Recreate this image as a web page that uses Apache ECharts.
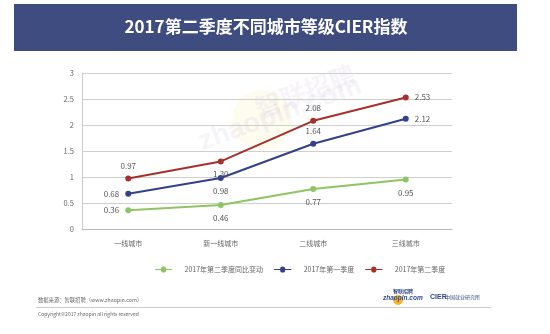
<!DOCTYPE html>
<html><head><meta charset="utf-8">
<script src="https://cdn.jsdelivr.net/npm/echarts@6/dist/echarts.min.js"></script>
<style>html,body{margin:0;padding:0;background:#fff}#c{width:550px;height:334px}</style>
</head><body><div id="c"></div>
<script>
var categories = ['一线城市', '新一线城市', '二线城市', '三线城市'];
var seriesNames = ['2017年第二季度同比变动', '2017年第一季度', '2017年第二季度'];
var yoyChange = [0.36, 0.46, 0.77, 0.95];
var q1 = [0.68, 0.98, 1.64, 2.12];
var q2 = [0.97, 1.30, 2.08, 2.53];
var yTicks = [0, 0.5, 1, 1.5, 2, 2.5, 3];

var colors = ['#8dc563', '#33408a', '#a5302c'];
var labelPos = [
  ['left', 'bottom', 'bottom', 'bottom'],
  ['left', 'bottom', 'top', 'right'],
  ['top', 'bottom', 'top', 'right']
];
var allData = [yoyChange, q1, q2];
var font = '"Noto Sans CJK SC", "Noto Sans", sans-serif';

var chart = echarts.init(document.getElementById('c'));
chart.setOption({
  animation: false,
  backgroundColor: '#fff',
  textStyle: {fontFamily: font},
  grid: {left: 82, right: 98, top: 73, bottom: 105},
  legend: {
    data: seriesNames,
    top: 261, left: 150,
    itemWidth: 20, itemHeight: 6, itemGap: 11,
    textStyle: {fontSize: 7, color: '#666', fontFamily: font, padding: [0, 0, 0, 6]},
    icon: 'path://M0,2.5 L7,2.5 A3,3 0 1,1 13,2.5 L20,2.5 L20,3.5 L13,3.5 A3,3 0 1,1 7,3.5 L0,3.5 Z'
  },
  xAxis: [{
    type: 'category', data: categories, boundaryGap: true,
    axisLine: {lineStyle: {color: '#bbb', width: 1}},
    axisTick: {alignWithLabel: true, length: 4, lineStyle: {color: '#bbb'}},
    axisLabel: {color: '#666', fontSize: 7, margin: 11}
  }, {
    type: 'category', data: categories, boundaryGap: true, position: 'bottom',
    axisLine: {show: false},
    axisTick: {length: 18, lineStyle: {color: '#ccc'}},
    axisLabel: {show: false}
  }],
  yAxis: {
    type: 'value', min: 0, max: 3, interval: 0.5,
    axisLine: {show: true, lineStyle: {color: '#ccc'}},
    axisTick: {show: false},
    axisLabel: {color: '#666', fontSize: 7.5, margin: 8,
      formatter: function (v) { return yTicks.indexOf(v) >= 0 ? String(v) : ''; }},
    splitLine: {lineStyle: {color: '#cfcfcf', width: 1}}
  },
  graphic: [
    {type: 'rect', x: 14, y: 4, shape: {width: 503, height: 47}, style: {fill: '#3f4c7f'}, z: 1},
    {type: 'text', x: 266, y: 27, style: {text: '2017第二季度不同城市等级CIER指数', fill: '#fff', font: 'bold 17px ' + font, textAlign: 'center', textVerticalAlign: 'middle'}, z: 2},
    {type: 'circle', shape: {cx: 262, cy: 120, r: 30}, style: {fill: 'rgba(250,225,140,0.14)'}, z: -1},
    {type: 'text', x: 252, y: 97, rotation: 0.35, style: {text: '智联招聘', fill: 'rgba(205,195,220,0.18)', font: 'bold 26px ' + font}, z: -1},
    {type: 'text', x: 195, y: 130, rotation: 0.35, style: {text: 'zhaopin.com', fill: 'rgba(205,195,220,0.18)', font: 'bold 28px sans-serif'}, z: -1},
    {type: 'text', x: 38, y: 297, style: {text: '数据来源：智联招聘（www.zhaopin.com）', fill: '#666', font: '5.3px ' + font}},
    {type: 'line', shape: {x1: 36, y1: 307.5, x2: 491, y2: 307.5}, style: {stroke: '#ccc', lineWidth: 1}},
    {type: 'text', x: 38, y: 312, style: {text: 'Copyright©2017 zhaopin all rights reserved', fill: '#666', font: '5px ' + font}},
    {type: 'circle', shape: {cx: 398, cy: 300, r: 5}, style: {fill: '#f5b335'}},
    {type: 'text', x: 383, y: 295, style: {text: 'zhaopin.com', fill: '#2f4a8a', font: 'italic bold 6.5px sans-serif'}},
    {type: 'text', x: 393, y: 289, style: {text: '智联招聘', fill: '#2f4a8a', font: 'bold 5px ' + font}},
    {type: 'text', x: 430, y: 294, style: {text: 'CIER', fill: '#2f4a8a', font: 'bold 7px sans-serif'}},
    {type: 'text', x: 445, y: 295, style: {text: '中国就业研究所', fill: '#2f4a8a', font: '5px ' + font}}
  ],
  series: seriesNames.map(function (name, i) {
    return {
      name: name, type: 'line', xAxisIndex: 0,
      data: allData[i].map(function (v, j) {
        return {value: v, label: {position: labelPos[i][j]}};
      }),
      symbol: 'circle', symbolSize: 6,
      lineStyle: {color: colors[i], width: 2},
      itemStyle: {color: colors[i]},
      z: 3,
      label: {show: true, color: '#555', fontSize: 8, distance: 6,
        formatter: function (p) { return p.value.toFixed(2); }}
    };
  })
});
</script></body></html>
